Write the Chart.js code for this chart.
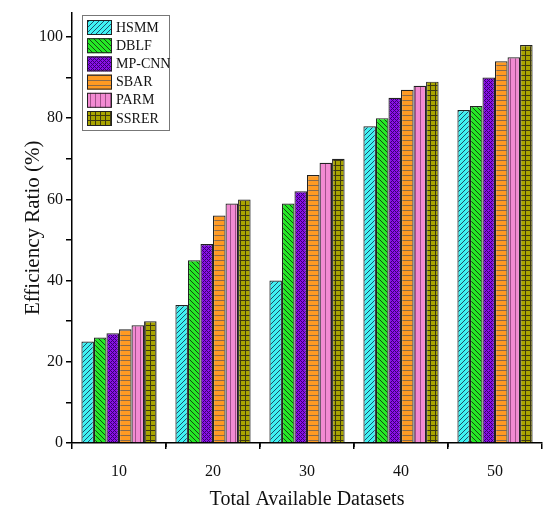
<!DOCTYPE html>
<html>
<head>
<meta charset="utf-8">
<script src="https://cdn.jsdelivr.net/npm/chart.js@4"></script>
<style>
  html, body { margin: 0; padding: 0; background: #fff; }
  #wrap { width: 544px; height: 510px; }
</style>
</head>
<body>
<div id="wrap"><canvas id="chart" width="544" height="510"></canvas></div>
<script>
const categories = ['10', '20', '30', '40', '50'];
const seriesNames = ['HSMM', 'DBLF', 'MP-CNN', 'SBAR', 'PARM', 'SSRER'];
const hsmm = [25, 34, 40, 78, 82];
const dblf = [26, 45, 59, 80, 83];
const mpcnn = [27, 49, 62, 85, 90];
const sbar = [28, 56, 66, 87, 94];
const parm = [29, 59, 69, 88, 95];
const ssrer = [30, 60, 70, 89, 98];
const yTicks = [0, 10, 20, 30, 40, 50, 60, 70, 80, 90, 100];

const FONT = "'Liberation Serif', 'Times New Roman', serif";

function makePattern(bg, fg, kind) {
    const c = document.createElement('canvas');
    const s = kind === 'cross' ? 4 : 5;
    c.width = s;
    c.height = s;
    const g = c.getContext('2d');
    g.fillStyle = bg;
    g.fillRect(0, 0, s, s);
    g.strokeStyle = fg;
    g.fillStyle = fg;
    g.lineWidth = 1;
    if (kind === 'fwd') {
        g.beginPath();
        g.moveTo(0, s); g.lineTo(s, 0);
        g.moveTo(-1, 1); g.lineTo(1, -1);
        g.moveTo(s - 1, s + 1); g.lineTo(s + 1, s - 1);
        g.stroke();
    } else if (kind === 'back') {
        g.beginPath();
        g.moveTo(0, 0); g.lineTo(s, s);
        g.moveTo(s - 1, -1); g.lineTo(s + 1, 1);
        g.moveTo(-1, s - 1); g.lineTo(1, s + 1);
        g.stroke();
    } else if (kind === 'cross') {
        g.fillRect(0, 0, 1, 1);
        g.fillRect(2, 2, 1, 1);
        g.fillRect(1, 1, 1, 1);
        g.fillRect(3, 3, 1, 1);
        g.fillRect(3, 1, 1, 1);
        g.fillRect(1, 3, 1, 1);
    } else if (kind === 'horiz') {
        g.fillRect(0, 0, s, 1);
    } else if (kind === 'vert') {
        g.fillRect(0, 0, 1, s);
    } else if (kind === 'grid') {
        g.fillRect(0, 0, s, 1);
        g.fillRect(0, 0, 1, s);
    }
    return g.createPattern(c, 'repeat');
}

const ctx = document.getElementById('chart').getContext('2d');

const fills = [
    makePattern('#3ff2f2', '#1d4f6a', 'fwd'),
    makePattern('#25e825', '#124a12', 'back'),
    makePattern('#8a10e8', '#3a0070', 'cross'),
    makePattern('#ff9a22', '#8a6a4a', 'horiz'),
    makePattern('#f28ad2', '#a0508a', 'vert'),
    makePattern('#a8a400', '#3e3a10', 'grid')
];
const seriesData = [hsmm, dblf, mpcnn, sbar, parm, ssrer];

const minorTicks = {
    id: 'minorTicks',
    afterDraw(chart) {
        const x = chart.scales.x;
        const c = chart.ctx;
        c.save();
        c.strokeStyle = '#000';
        c.lineWidth = 1.5;
        for (let i = 0; i < categories.length - 1; i++) {
            const px = (x.getPixelForValue(i) + x.getPixelForValue(i + 1)) / 2;
            c.beginPath();
            c.moveTo(px, x.top);
            c.lineTo(px, x.top + 4);
            c.stroke();
        }
        c.restore();
    }
};

const boxLegend = {
    id: 'boxLegend',
    afterDraw(chart) {
        const c = chart.ctx;
        const left = 82, top = 15, w = 87, h = 115;
        c.save();
        c.fillStyle = '#fff';
        c.fillRect(left, top, w, h);
        c.strokeStyle = '#777';
        c.lineWidth = 1;
        c.strokeRect(left + 0.5, top + 0.5, w, h);
        c.font = '14px ' + FONT;
        c.textBaseline = 'middle';
        seriesNames.forEach((name, i) => {
            const y = top + 5 + i * 18.2;
            c.fillStyle = fills[i];
            c.fillRect(left + 5, y, 25, 15);
            c.strokeStyle = '#222';
            c.strokeRect(left + 5.5, y + 0.5, 24, 14);
            c.fillStyle = '#111';
            c.fillText(name, left + 34, y + 8);
        });
        c.restore();
    }
};

new Chart(ctx, {
    type: 'bar',
    data: {
        labels: categories,
        datasets: seriesNames.map((name, i) => ({
            label: name,
            data: seriesData[i],
            backgroundColor: fills[i],
            borderColor: '#222',
            borderWidth: 1.2,
            barPercentage: 1,
            categoryPercentage: 0.8
        }))
    },
    options: {
        responsive: false,
        animation: false,
        layout: { padding: { top: 12, right: 2, left: 0, bottom: 0 } },
        plugins: {
            legend: { display: false },
            tooltip: { enabled: false }
        },
        scales: {
            x: {
                grid: { drawOnChartArea: false, color: '#000', lineWidth: 1.5, tickLength: 6 },
                border: { color: '#000', width: 1.5 },
                ticks: { color: '#111', font: { family: FONT, size: 16 }, padding: 13 },
                title: {
                    display: true,
                    text: 'Total Available Datasets',
                    color: '#111',
                    font: { family: FONT, size: 20 },
                    padding: { top: 0, bottom: -2 }
                },
                afterFit(scale) { scale.height = 67; }
            },
            y: {
                min: 0,
                max: 106,
                afterBuildTicks(scale) { scale.ticks = yTicks.map(v => ({ value: v })); },
                grid: { drawOnChartArea: false, color: '#000', lineWidth: 1.5, tickLength: 6 },
                border: { color: '#000', width: 1.5 },
                ticks: {
                    color: '#111',
                    font: { family: FONT, size: 16 },
                    padding: 3,
                    callback: v => (v % 20 === 0 ? v : '')
                },
                title: {
                    display: true,
                    text: 'Efficiency Ratio (%)',
                    color: '#111',
                    font: { family: FONT, size: 21 },
                    padding: { top: 21, bottom: 0 }
                },
                afterFit(scale) { scale.width = 72; }
            }
        }
    },
    plugins: [minorTicks, boxLegend]
});
</script>
</body>
</html>
